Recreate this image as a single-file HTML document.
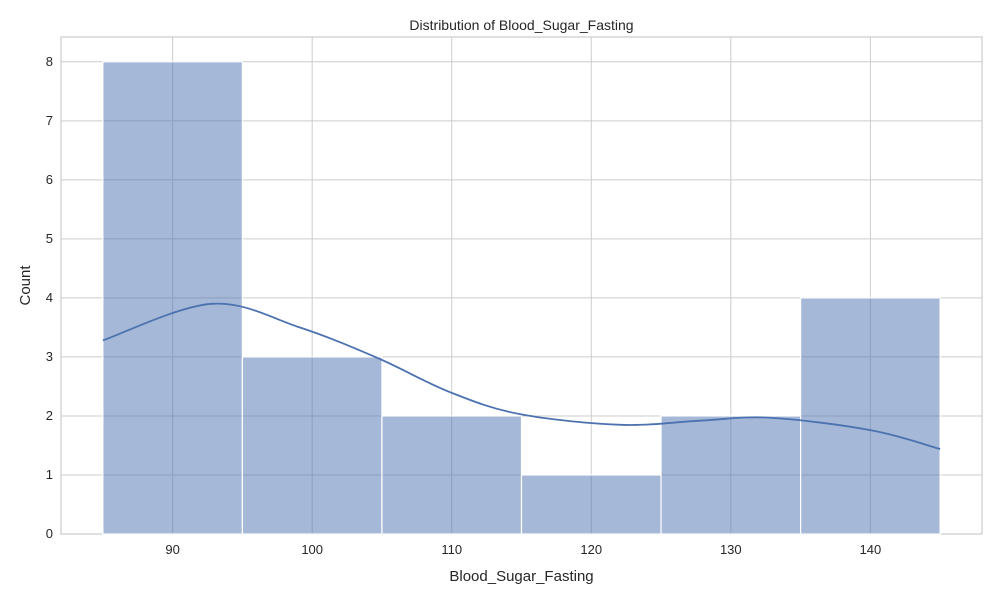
<!DOCTYPE html>
<html><head><meta charset="utf-8"><style>
body{margin:0;background:#fff;font-family:"Liberation Sans","DejaVu Sans",sans-serif;}
svg text{font-family:"Liberation Sans","DejaVu Sans",sans-serif;fill:#262626;}
</style></head><body>
<svg id="chart" width="1000" height="600" xmlns="http://www.w3.org/2000/svg"></svg>
<script>
const binEdges=[85,95,105,115,125,135,145];
const counts=[8,3,2,1,2,4];
const xTicks=[90,100,110,120,130,140];
const yTicks=[0,1,2,3,4,5,6,7,8];
const kdeX=[85,92.8,99.1,104.7,109.9,114.9,122.1,127.8,132.8,140,145];
const kdeY=[3.28,3.9,3.5,2.98,2.4,2.03,1.85,1.92,1.97,1.76,1.44];
const L=61,R=982,T=37,B=534,xmin=82,xmax=148,ymax=8.42;
const X=v=>L+(v-xmin)/(xmax-xmin)*(R-L);
const Y=v=>B-v/ymax*(B-T);
const svg=document.getElementById('chart');
const NS='http://www.w3.org/2000/svg';
function mk(tag,attrs,parent){const e=document.createElementNS(NS,tag);for(const k in attrs)e.setAttribute(k,attrs[k]);(parent||svg).appendChild(e);return e;}
const bg=mk('rect',{x:L,y:T,width:R-L,height:B-T,fill:'#fff',stroke:'#ccc','stroke-width':1.2});


yTicks.forEach(t=>{
 const g=mk('line',{x1:L,x2:R,y1:Y(t),y2:Y(t),stroke:'#ccc','stroke-width':1});
 
 
 const tx=mk('text',{x:L-8,y:Y(t)+4,'text-anchor':'end','font-size':13});
 tx.textContent=t;
 
 
});
xTicks.forEach(t=>{
 const g=mk('line',{x1:X(t),x2:X(t),y1:T,y2:B,stroke:'#ccc','stroke-width':1});
 
 
 const tx=mk('text',{x:X(t),y:B+20,'text-anchor':'middle','font-size':13});
 tx.textContent=t;
 
 
});
counts.forEach((c,i)=>{
 const r=mk('rect',{x:X(binEdges[i]),y:Y(c),width:X(binEdges[i+1])-X(binEdges[i]),height:Y(0)-Y(c),fill:'rgba(76,114,176,0.5)',stroke:'#fff','stroke-width':1.2});
 
 
});
const pts=kdeX.map((x,i)=>[X(x),Y(kdeY[i])]);
let d='M'+pts[0][0]+','+pts[0][1];
for(let i=0;i<pts.length-1;i++){
 const p0=pts[Math.max(0,i-1)],p1=pts[i],p2=pts[i+1],p3=pts[Math.min(pts.length-1,i+2)];
 const c1=[p1[0]+(p2[0]-p0[0])/6,p1[1]+(p2[1]-p0[1])/6],c2=[p2[0]-(p3[0]-p1[0])/6,p2[1]-(p3[1]-p1[1])/6];
 d+=' C'+c1+' '+c2+' '+p2;
}
const kde=mk('path',{d:d,fill:'none',stroke:'#4c72b0','stroke-width':1.8});


const title=mk('text',{x:(L+R)/2,y:30,'text-anchor':'middle','font-size':14});
title.textContent='Distribution of Blood_Sugar_Fasting';


const xl=mk('text',{x:(L+R)/2,y:581,'text-anchor':'middle','font-size':15});
xl.textContent='Blood_Sugar_Fasting';


const yl=mk('text',{x:30,y:(T+B)/2,'text-anchor':'middle','font-size':15,transform:'rotate(-90 30 '+(T+B)/2+')'});
yl.textContent='Count';


</script>
</body></html>
